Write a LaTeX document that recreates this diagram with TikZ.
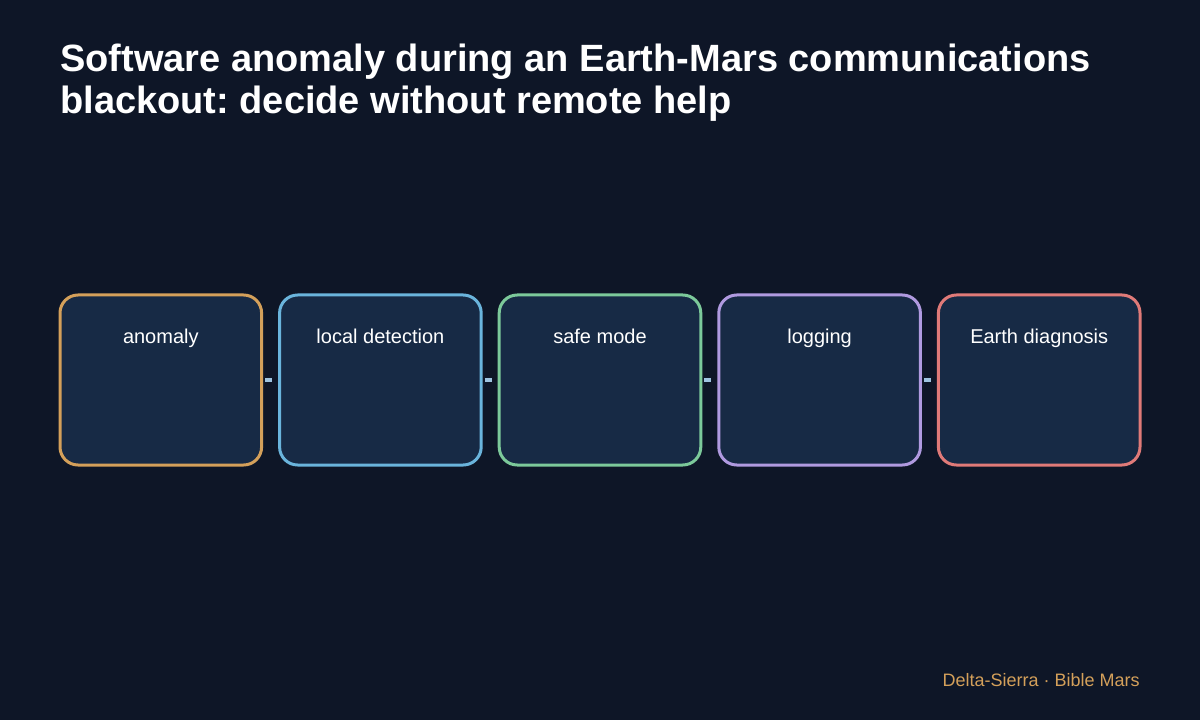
\documentclass[tikz,border=0pt]{standalone}
\usepackage{fontspec}
\setmainfont{Liberation Sans}
\frenchspacing
\usetikzlibrary{positioning}
\definecolor{bgdark}{HTML}{0E1627}
\definecolor{boxfill}{HTML}{172A45}
\definecolor{linkcol}{HTML}{9EC3E0}
\definecolor{cOrange}{HTML}{D4A05A}
\definecolor{cBlue}{HTML}{6AB4DC}
\definecolor{cGreen}{HTML}{7CC99A}
\definecolor{cPurple}{HTML}{B09AE0}
\definecolor{cRed}{HTML}{E07A78}
\tikzset{
  stagebox/.style={draw=#1, line width=2.25pt, fill=boxfill, rounded corners=13.5pt,
    minimum width=151.2pt, minimum height=127.5pt, inner sep=0pt},
  stagelabel/.style={text=white, font=\fontsize{15}{18}\selectfont, anchor=base, inner sep=0pt},
  link/.style={draw=linkcol, line width=3pt, shorten <=1.5pt, shorten >=4.5pt},
}
\begin{document}
\begin{tikzpicture}[x=0.75pt,y=-0.75pt]
        \fill[bgdark] (0,0) rectangle (1200,720);
        \useasboundingbox (0,0) rectangle (1200,720);
        \node[anchor=base west,text=white,font=\bfseries\fontsize{28.5}{31.5}\selectfont,align=left,inner sep=0pt] (title) at (60,114)
            {Software anomaly during an Earth-Mars communications\\blackout: decide without remote help};
        
        \node[stagebox=cOrange] (anomaly) at (160.8,380) {};
        \node[stagebox=cBlue, right=11.25pt of anomaly] (detect) {};
        \node[stagebox=cGreen, right=11.25pt of detect] (safe) {};
        \node[stagebox=cPurple, right=11.25pt of safe] (logging) {};
        \node[stagebox=cRed, right=11.25pt of logging] (diag) {};
        
        \foreach \b/\t in {anomaly/anomaly, detect/local detection, safe/safe mode, logging/logging, diag/Earth diagnosis}
            \node[stagelabel] (\b-txt) at ([yshift=-37.5pt]\b.north) {\t};
        
        \foreach \a/\b in {anomaly/detect, detect/safe, safe/logging, logging/diag}
            \draw[link] (\a.east) -- (\b.west);
        
        \node[anchor=base east,text=cOrange,font=\fontsize{13.5}{16}\selectfont,inner sep=0pt] (footer) at (1140,686) {Delta-Sierra · Bible Mars};
\end{tikzpicture}
\end{document}
